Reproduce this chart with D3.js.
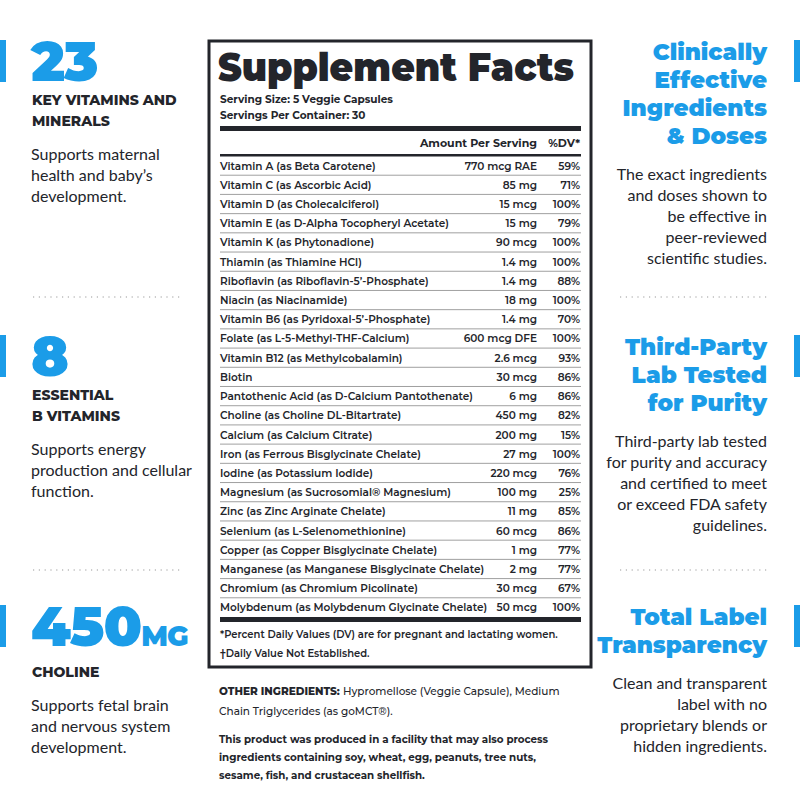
<!DOCTYPE html>
<html><head><meta charset="utf-8">
<script src="https://cdn.jsdelivr.net/npm/d3@7"></script>
<style>body{margin:0;background:#fff}</style>
</head><body><svg id="chart" width="800" height="800"></svg>
<script>
// Table data
const nutrients = ["Vitamin A (as Beta Carotene)","Vitamin C (as Ascorbic Acid)","Vitamin D (as Cholecalciferol)","Vitamin E (as D-Alpha Tocopheryl Acetate)","Vitamin K (as Phytonadione)","Thiamin (as Thiamine HCl)","Riboflavin (as Riboflavin-5’-Phosphate)","Niacin (as Niacinamide)","Vitamin B6 (as Pyridoxal-5’-Phosphate)","Folate (as L-5-Methyl-THF-Calcium)","Vitamin B12 (as Methylcobalamin)","Biotin","Pantothenic Acid (as D-Calcium Pantothenate)","Choline (as Choline DL-Bitartrate)","Calcium (as Calcium Citrate)","Iron (as Ferrous Bisglycinate Chelate)","Iodine (as Potassium Iodide)","Magnesium (as Sucrosomial® Magnesium)","Zinc (as Zinc Arginate Chelate)","Selenium (as L-Selenomethionine)","Copper (as Copper Bisglycinate Chelate)","Manganese (as Manganese Bisglycinate Chelate)","Chromium (as Chromium Picolinate)","Molybdenum (as Molybdenum Glycinate Chelate)"];
const amounts = ["770 mcg RAE","85 mg","15 mcg","15 mg","90 mcg","1.4 mg","1.4 mg","18 mg","1.4 mg","600 mcg DFE","2.6 mcg","30 mcg","6 mg","450 mg","200 mg","27 mg","220 mcg","100 mg","11 mg","60 mcg","1 mg","2 mg","30 mcg","50 mcg"];
const dailyValues = ["59%","71%","100%","79%","100%","100%","88%","100%","70%","100%","93%","86%","86%","82%","15%","100%","76%","25%","85%","86%","77%","77%","67%","100%"];

// Side panels
const leftStats = [
  {big: "23", small: "", label: ["KEY VITAMINS AND", "MINERALS"], body: ["Supports maternal", "health and baby’s", "development."]},
  {big: "8", small: "", label: ["ESSENTIAL", "B VITAMINS"], body: ["Supports energy", "production and cellular", "function."]},
  {big: "450", small: "MG", label: ["CHOLINE"], body: ["Supports fetal brain", "and nervous system", "development."]}
];
const rightClaims = [
  {title: ["Clinically", "Effective", "Ingredients", "& Doses"], body: ["The exact ingredients", "and doses shown to", "be effective in", "peer-reviewed", "scientific studies."]},
  {title: ["Third-Party", "Lab Tested", "for Purity"], body: ["Third-party lab tested", "for purity and accuracy", "and certified to meet", "or exceed FDA safety", "guidelines."]},
  {title: ["Total Label", "Transparency"], body: ["Clean and transparent", "label with no", "proprietary blends or", "hidden ingredients."]}
];

const blue = "#1b9ce8", dark = "#23252b";
const headFont = "Montserrat, Inter, 'DejaVu Sans', sans-serif";
const bodyFont = "Lato, 'Open Sans', sans-serif";
const svg = d3.select("#chart");

// Left column
const leftTops = [40, 335, 605];
leftStats.forEach((s, i) => {
  const g = svg.append("g").attr("transform", `translate(0,${leftTops[i]})`);
  g.append("rect").attr("x", 0).attr("y", 0).attr("width", 6).attr("height", 42).attr("fill", blue);
  const t = g.append("text").attr("x", 31).attr("y", 41).attr("fill", blue)
    .attr("font-family", headFont).attr("font-weight", 900).attr("font-size", 56).attr("letter-spacing", -1).text(s.big);
  if (s.small) t.append("tspan").attr("font-size", 28).text(s.small);
  const ly = s.small ? 72 : 65;
  s.label.forEach((l, j) => g.append("text").attr("x", 32).attr("y", ly + j * 21).attr("fill", dark)
    .attr("font-family", headFont).attr("font-weight", 800).attr("font-size", 14).text(l));
  const by = ly + (s.label.length - 1) * 21 + 34;
  s.body.forEach((l, j) => g.append("text").attr("x", 31).attr("y", by + j * 21).attr("fill", dark)
    .attr("font-family", bodyFont).attr("font-size", 16).text(l));
});
[297, 570].forEach(y => svg.append("line").attr("x1", 33).attr("x2", 180).attr("y1", y).attr("y2", y)
  .attr("stroke", "#999").attr("stroke-width", 1.2).attr("stroke-dasharray", "1.2,4.6"));

// Right column
const rightTops = [40, 335, 605];
rightClaims.forEach((c, i) => {
  const g = svg.append("g").attr("transform", `translate(0,${rightTops[i]})`);
  g.append("rect").attr("x", 794).attr("y", 0).attr("width", 6).attr("height", 42).attr("fill", blue);
  c.title.forEach((l, j) => g.append("text").attr("x", 767).attr("y", 20 + j * 28).attr("text-anchor", "end")
    .attr("fill", blue).attr("font-family", headFont).attr("font-weight", 900).attr("font-size", 23).text(l));
  const by = 20 + (c.title.length - 1) * 28 + 36;
  c.body.forEach((l, j) => g.append("text").attr("x", 767).attr("y", by + j * 21).attr("text-anchor", "end")
    .attr("fill", dark).attr("font-family", bodyFont).attr("font-size", 16).text(l));
});
[297, 570].forEach(y => svg.append("line").attr("x1", 620).attr("x2", 767).attr("y1", y).attr("y2", y)
  .attr("stroke", "#999").attr("stroke-width", 1.2).attr("stroke-dasharray", "1.2,4.6"));

// Facts table
const box = {x: 209, y: 41, w: 382, h: 626};
svg.append("rect").attr("x", box.x).attr("y", box.y).attr("width", box.w).attr("height", box.h)
  .attr("fill", "none").attr("stroke", dark).attr("stroke-width", 3);
const tx = 220, tr = 580;
svg.append("text").attr("x", tx - 2).attr("y", 81).attr("fill", dark).attr("font-family", headFont)
  .attr("font-weight", 900).attr("font-size", 40).attr("textLength", 356).attr("lengthAdjust", "spacingAndGlyphs").text("Supplement Facts");
["Serving Size: 5 Veggie Capsules", "Servings Per Container: 30"].forEach((l, j) =>
  svg.append("text").attr("x", tx).attr("y", 103 + j * 16).attr("fill", dark).attr("font-family", headFont)
    .attr("font-weight", 700).attr("font-size", 10.5).text(l));
svg.append("rect").attr("x", tx).attr("y", 126).attr("width", tr - tx + 1).attr("height", 5).attr("fill", dark);
svg.append("text").attr("x", 537).attr("y", 147).attr("text-anchor", "end").attr("fill", dark).attr("font-family", headFont)
  .attr("font-weight", 700).attr("font-size", 11).text("Amount Per Serving");
svg.append("text").attr("x", tr).attr("y", 147).attr("text-anchor", "end").attr("fill", dark).attr("font-family", headFont)
  .attr("font-weight", 700).attr("font-size", 11).text("%DV*");
svg.append("rect").attr("x", tx).attr("y", 154).attr("width", tr - tx + 1).attr("height", 2.5).attr("fill", dark);

const y = d3.scaleBand().domain(nutrients).range([156, 617]);
const rows = svg.append("g").selectAll("g").data(nutrients).join("g")
  .attr("transform", d => `translate(0,${y(d)})`);
rows.append("text").attr("x", tx).attr("y", y.bandwidth() / 2 + 4).attr("fill", dark).attr("font-family", headFont)
  .attr("font-weight", 600).attr("font-size", 10.5).text(d => d);
rows.append("text").attr("x", 537).attr("y", y.bandwidth() / 2 + 4).attr("text-anchor", "end").attr("fill", dark)
  .attr("font-family", headFont).attr("font-weight", 600).attr("font-size", 10.5).text((d, i) => amounts[i]);
rows.append("text").attr("x", tr).attr("y", y.bandwidth() / 2 + 4).attr("text-anchor", "end").attr("fill", dark)
  .attr("font-family", headFont).attr("font-weight", 600).attr("font-size", 10.5).text((d, i) => dailyValues[i]);
rows.filter((d, i) => i < nutrients.length - 1).append("line").attr("x1", tx).attr("x2", tr + 1)
  .attr("y1", y.bandwidth()).attr("y2", y.bandwidth()).attr("stroke", "#888").attr("stroke-width", 0.8);
svg.append("rect").attr("x", tx).attr("y", 617).attr("width", tr - tx + 1).attr("height", 5).attr("fill", dark);
["*Percent Daily Values (DV) are for pregnant and lactating women.", "†Daily Value Not Established."].forEach((l, j) =>
  svg.append("text").attr("x", tx).attr("y", 638 + j * 19).attr("fill", dark).attr("font-family", headFont)
    .attr("font-weight", 600).attr("font-size", 10).text(l));

// Below box
const other = svg.append("text").attr("x", 219).attr("y", 695).attr("fill", dark).attr("font-family", headFont).attr("font-size", 10.5);
other.append("tspan").attr("font-weight", 800).text("OTHER INGREDIENTS: ");
other.append("tspan").attr("font-weight", 500).text("Hypromellose (Veggie Capsule), Medium");
svg.append("text").attr("x", 219).attr("y", 715).attr("fill", dark).attr("font-family", headFont).attr("font-weight", 500)
  .attr("font-size", 10.5).text("Chain Triglycerides (as goMCT®).");
["This product was produced in a facility that may also process", "ingredients containing soy, wheat, egg, peanuts, tree nuts,", "sesame, fish, and crustacean shellfish."].forEach((l, j) =>
  svg.append("text").attr("x", 219).attr("y", 743 + j * 18).attr("fill", dark).attr("font-family", headFont)
    .attr("font-weight", 700).attr("font-size", 10.3).text(l));
</script></body></html>
